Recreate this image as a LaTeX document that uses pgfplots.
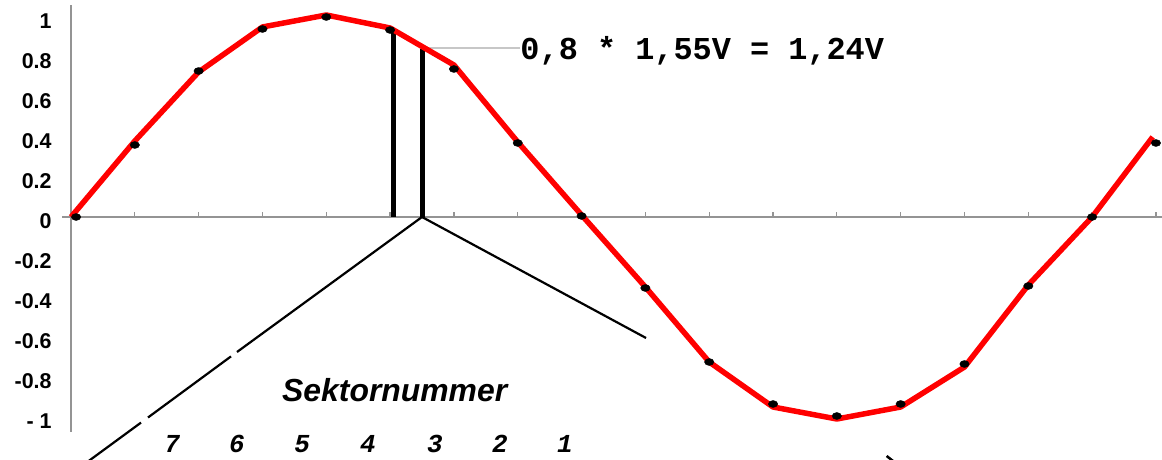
\documentclass[border=0pt]{standalone}
\usepackage{fontspec}
\setmainfont{Liberation Sans}
\setmonofont{Liberation Mono}
\usepackage{pgfplots}
\usepackage{pgfplotstable}
\pgfplotsset{compat=1.18}

% sampled sine, drawn curve
\pgfplotstableread{
i     v
0     0
1     0.38
2     0.725
3     0.95
4     1.01
5     0.945
6     0.76
7     0.375
8     0.01
9    -0.35
10   -0.725
11   -0.95
12   -1.01
13   -0.95
14   -0.75
15   -0.34
16    0
16.95 0.40
}\curve

% measured sample points
\pgfplotstableread{
i     v
0.08  0
1     0.36
2     0.73
3     0.94
4     1.0
5     0.935
6     0.74
7     0.37
8     0.005
9    -0.355
10   -0.725
11   -0.935
12   -0.995
13   -0.935
14   -0.735
15   -0.345
16    0
17    0.37
}\samples

\tikzset{secnum/.style={anchor=base, inner sep=0pt,
  font=\ttfamily\bfseries\itshape\fontsize{26}{26}\selectfont}}

\begin{document}
\begin{tikzpicture}
\begin{axis}[
  x=63.82bp, y=200bp,
  xmin=-0.14, xmax=17.09, ymin=-1.075, ymax=1.06,
  axis lines=middle,
  axis line style={draw=black!42, line width=1.5bp, -},
  clip=false,
  hide obscured x ticks=false,
  hide obscured y ticks=false,
  xtick={1,...,17}, xticklabels={},
  ytick={-1,-0.8,-0.6,-0.4,-0.2,0,0.2,0.4,0.6,0.8,1},
  yticklabels={- 1,-0.8,-0.6,-0.4,-0.2,0,0.2,0.4,0.6,0.8,1},
  major y tick style={draw=none},
  major x tick style={draw=black!42, line width=1.3bp},
  xtick align=inside,
  major tick length=4.5bp,
  yticklabel style={anchor=east, inner sep=0pt, xshift=-17bp, yshift=-4bp,
    font=\bfseries\fontsize{21.5}{21.5}\selectfont},
]
  % voltage bars under the curve
  \draw[line width=5bp] (axis cs:5.05,0) -- (axis cs:5.05,0.935);
  \draw[line width=5bp] (axis cs:5.5,0) -- (axis cs:5.5,0.84);
  \draw[black!22, line width=1.5bp] (axis cs:5.5,0.845) -- (axis cs:7.04,0.845);
  \node[anchor=base west, inner sep=0pt,
        font=\ttfamily\bfseries\fontsize{32}{32}\selectfont]
        at (axis cs:7.04,0.7875) {0,8 * 1,55V = 1,24V};

  % sector fan
  \draw[line width=2.2bp] (axis cs:5.5,0) -- (axis cs:9.01,-0.605);
  \draw[line width=2.2bp] (axis cs:5.5,0) -- (axis cs:2.601,-0.675);
  \draw[line width=2.2bp] (axis cs:2.507,-0.697) -- (axis cs:1.2065,-1.0025);
  \draw[line width=2.2bp] (axis cs:1.097,-1.028) -- (axis cs:0.266,-1.2225);
  \draw[line width=2.5bp] (axis cs:12.78,-1.195) -- (axis cs:12.9,-1.225);

  \node[anchor=base west, inner sep=0pt,
        font=\bfseries\itshape\fontsize{32}{32}\selectfont]
        at (axis cs:3.306,-0.925) {Sektornummer};
  \node[secnum] at (axis cs:1.583,-1.18) {7};
  \node[secnum] at (axis cs:2.6,-1.18) {6};
  \node[secnum] at (axis cs:3.62,-1.18) {5};
  \node[secnum] at (axis cs:4.654,-1.18) {4};
  \node[secnum] at (axis cs:5.70,-1.18) {3};
  \node[secnum] at (axis cs:6.72,-1.18) {2};
  \node[secnum] at (axis cs:7.74,-1.18) {1};

  \addplot[only marks, mark=*, mark size=3.5bp,
           mark options={xscale=1.35, draw=black, fill=black}]
    table[x=i, y=v] {\samples};
  \addplot[red, line width=5.5bp, line join=round] table[x=i, y=v] {\curve};

  \coordinate (BL) at (axis cs:-1.1125,-1.215);
  \coordinate (TR) at (axis cs:17.095,1.085);
\end{axis}
\pgfresetboundingbox
\path[use as bounding box] (BL) rectangle (TR);
\end{tikzpicture}
\end{document}
